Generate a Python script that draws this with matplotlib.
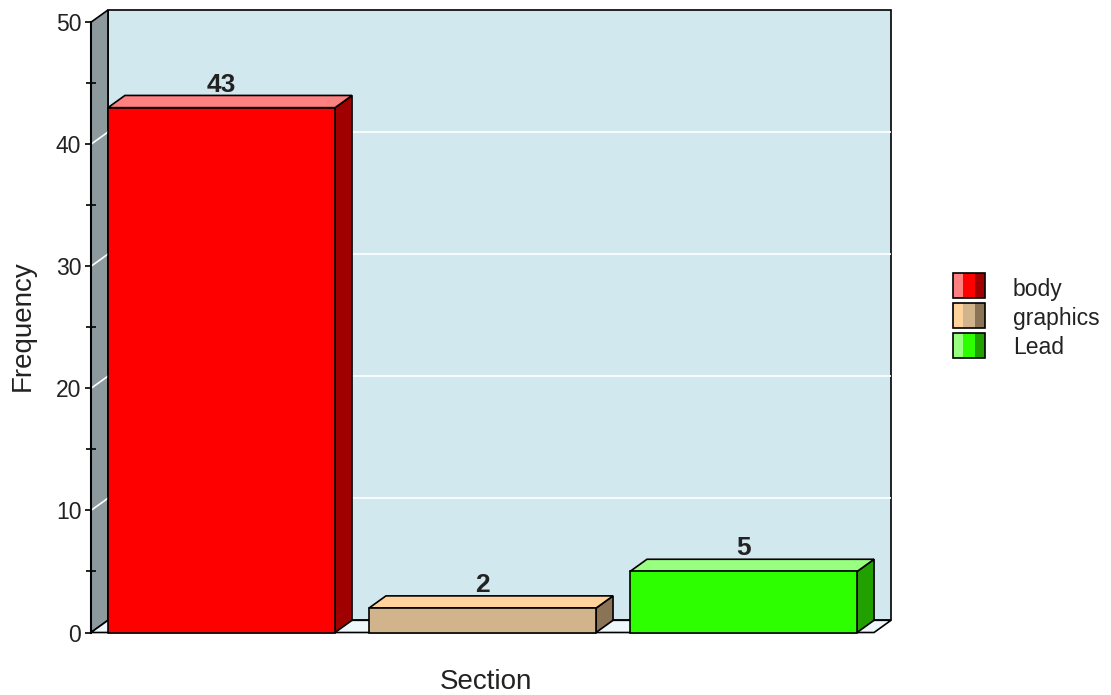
import matplotlib
matplotlib.use("Agg")
from matplotlib import pyplot as plt
from matplotlib.patches import Polygon, Rectangle

plt.rcParams['font.family'] = ['Liberation Sans', 'DejaVu Sans']

# counts per section
sections = ["body", "graphics", "Lead"]
counts = [43, 2, 5]
front_cols = ["#FF0000", "#D2B48C", "#2EFF00"]
top_cols = ["#FF8080", "#FFD39B", "#99FF80"]
side_cols = ["#A00000", "#8B7355", "#22A000"]

y_ticks = [0, 10, 20, 30, 40, 50]
y_minor = [5, 15, 25, 35, 45]

W, H = 1111, 695
fig = plt.figure(figsize=(W / 100, H / 100), dpi=100)
ax = fig.add_axes([91 / W, 62.5 / H, 800 / W, 622.5 / H])

dx, dy = 0.065, 1.0      # depth offset of the box
bw = 0.87                 # bar width
x0, x1 = -0.5, len(counts) - 0.5
ymax = 50
ax.set_xlim(x0, x1 + dx)
ax.set_ylim(0, ymax + dy)

edge = dict(edgecolor="black", linewidth=1.2, clip_on=False)

# back wall, side wall and floor
ax.add_patch(Rectangle((x0 + dx, dy), x1 - x0, ymax, facecolor="#D1E8EF", zorder=1, **edge))
ax.add_patch(Polygon([(x0, 0), (x0, ymax), (x0 + dx, ymax + dy), (x0 + dx, dy)],
                     facecolor="#8C9A9E", zorder=1, **edge))
ax.add_patch(Polygon([(x0, 0), (x1, 0), (x1 + dx, dy), (x0 + dx, dy)],
                     facecolor="#EEF8FC", zorder=1, **edge))

# white grid on the walls
for v in y_ticks[1:-1]:
    ax.plot([x0 + dx, x1 + dx], [v + dy, v + dy], color="white", lw=1.2, zorder=2)
    ax.plot([x0, x0 + dx], [v, v + dy], color="white", lw=1.2, zorder=2, clip_on=False)

# 3d bars
for i, v in enumerate(counts):
    l, r = i - bw / 2, i + bw / 2
    ax.add_patch(Polygon([(r, 0), (r, v), (r + dx, v + dy), (r + dx, dy)],
                         facecolor=side_cols[i], zorder=3, **edge))
    ax.add_patch(Polygon([(l, v), (r, v), (r + dx, v + dy), (l + dx, v + dy)],
                         facecolor=top_cols[i], zorder=3, **edge))
    ax.add_patch(Rectangle((l, 0), bw, v, facecolor=front_cols[i], zorder=4, **edge))
    ax.text(i, v + dy - 0.1, str(v), ha="center", va="bottom", fontsize=19,
            fontweight="bold", family=["Liberation Sans Narrow", "Liberation Sans"],
            color="#222222", zorder=5)

# left axis
for s in ["top", "right", "bottom"]:
    ax.spines[s].set_visible(False)
ax.spines["left"].set_bounds(0, ymax)
ax.spines["left"].set_linewidth(1.5)
ax.set_xticks([])
ax.set_yticks(y_ticks)
ax.set_yticks(y_minor, minor=True)
ax.tick_params(axis="y", which="major", direction="out", length=4, width=1.2,
               labelsize=16.5, pad=3, labelcolor="#222222")
ax.tick_params(axis="y", which="minor", direction="inout", length=7, width=1.2)
ax.patch.set_visible(False)

fig.text(23 / W, 1 - 326 / H, "Frequency", rotation=90, ha="center", va="center",
         fontsize=20, color="#222222")
fig.text(486 / W, 1 - 682 / H, "Section", ha="center", va="center",
         fontsize=20, color="#222222")

# legend
for k, name in enumerate(sections):
    top = 273 + 30 * k
    bx, by = 953 / W, 1 - (top + 25) / H
    bh = 25 / H
    for j, (c, w0, w1) in enumerate([(top_cols[k], 953, 963), (front_cols[k], 963, 975),
                                     (side_cols[k], 975, 985)]):
        fig.patches.append(Rectangle((w0 / W, by), (w1 - w0) / W, bh, facecolor=c,
                                     edgecolor="none", transform=fig.transFigure))
    fig.patches.append(Rectangle((bx, by), 32 / W, bh, facecolor="none", edgecolor="black",
                                 linewidth=1.2, transform=fig.transFigure))
    fig.text(1013 / W, 1 - (296 + 29 * k) / H, name, ha="left", va="baseline",
             fontsize=16.5, color="#222222")

fig.savefig("out.png", dpi=100)
